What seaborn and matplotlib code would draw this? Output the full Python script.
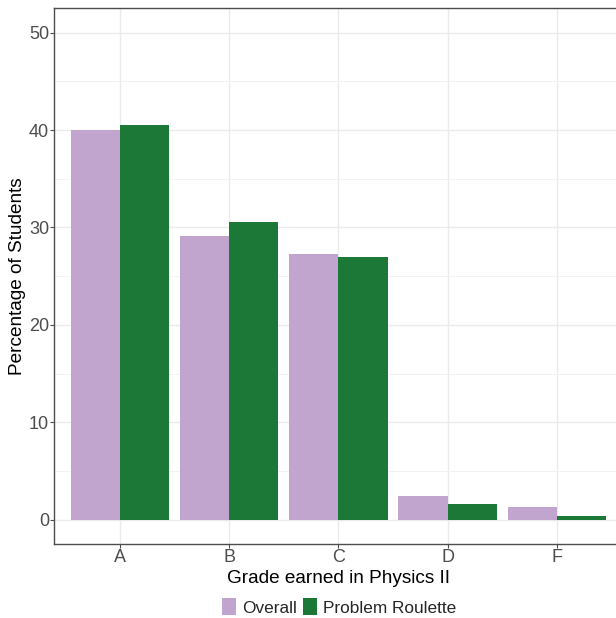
import matplotlib
matplotlib.use("Agg")
import matplotlib.pyplot as plt
import seaborn as sns
import pandas as pd
from matplotlib.ticker import MultipleLocator
from matplotlib.patches import Patch

grades = ["A", "B", "C", "D", "F"]
overall = [40.0, 29.1, 27.3, 2.4, 1.3]
problem_roulette = [40.5, 30.6, 27.0, 1.6, 0.4]
groups = ["Overall", "Problem Roulette"]
colors = ["#C2A5CF", "#1B7837"]

df = pd.DataFrame({
    "Grade": grades * 2,
    "Percent": overall + problem_roulette,
    "Group": [groups[0]] * len(grades) + [groups[1]] * len(grades),
})

sns.set_theme(style="white")
plt.rcParams["font.family"] = ["Liberation Sans", "DejaVu Sans"]

W, H = 616, 618
fig = plt.figure(figsize=(W / 100, H / 100), dpi=100)
left, right, top, bottom = 54.3, 622.4, 8.3, 544.0
ax = fig.add_axes([left / W, (H - bottom) / H, (right - left) / W, (bottom - top) / H])

sns.barplot(data=df, x="Grade", y="Percent", hue="Group", order=grades,
            hue_order=groups, palette=colors, width=0.9, gap=0,
            saturation=1, ax=ax, legend=False, zorder=3, linewidth=0, edgecolor="none")

ax.set_xlim(-0.6, 4.6)
ax.set_ylim(-2.5, 52.5)
ax.yaxis.set_major_locator(MultipleLocator(10))
ax.yaxis.set_minor_locator(MultipleLocator(5))
ax.set_axisbelow(True)
ax.grid(True, which="major", color="#ebebeb", lw=1.0, zorder=0)
ax.grid(True, which="minor", axis="y", color="#f2f2f2", lw=0.7, zorder=0)

for s in ax.spines.values():
    s.set_color("#4d4d4d")
    s.set_linewidth(1.0)

ax.tick_params(axis="both", which="major", length=3.0, width=0.8, color="#4d4d4d",
               labelsize=13, labelcolor="#4d4d4d", pad=0.8, bottom=True, left=True)
ax.tick_params(axis="both", which="minor", length=0)

ax.set_xlabel("Grade earned in Physics II", fontsize=13.7, color="black", labelpad=2.5)
ax.set_ylabel("Percentage of Students", fontsize=13.7, color="black", labelpad=2)

handles = [Patch(facecolor=c, edgecolor="none", label=g) for c, g in zip(colors, groups)]
fig.legend(handles=handles, loc="center", bbox_to_anchor=(339 / W, 1 - 607 / H),
           ncol=2, frameon=False, fontsize=12.4, handlelength=0.82, handleheight=1.1,
           handletextpad=0.35, columnspacing=0.35)

fig.savefig("out.png", dpi=100)
